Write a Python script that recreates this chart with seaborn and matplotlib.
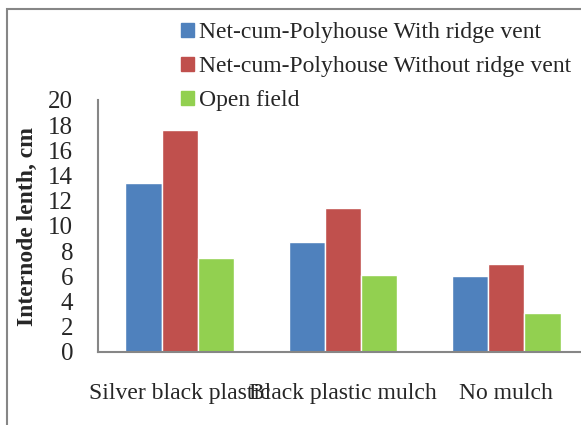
import pandas as pd
import seaborn as sns
import matplotlib.pyplot as plt
from matplotlib.patches import Rectangle

sns.set_style('white')
plt.rcParams['font.family'] = ['Liberation Serif', 'DejaVu Serif']

# 데이터
categories = ['Silver black plastic', 'Black plastic mulch', 'No mulch']
series = ['Net-cum-Polyhouse With ridge vent',
          'Net-cum-Polyhouse Without ridge vent',
          'Open field']
with_vent = [13.4, 8.7, 6.0]
without_vent = [17.6, 11.4, 7.0]
open_field = [7.5, 6.1, 3.1]
colors = ['#4F81BD', '#C0504D', '#92D050']

df = pd.DataFrame({
    'mulch': categories * 3,
    'treatment': [series[0]] * 3 + [series[1]] * 3 + [series[2]] * 3,
    'value': with_vent + without_vent + open_field,
})

fig = plt.figure(figsize=(5.81, 4.25), dpi=100)
# 차트 영역 테두리
fig.patches.append(Rectangle((7 / 581, -0.1), 1.2, 1 - 9 / 425 + 0.1,
                             transform=fig.transFigure, fill=False,
                             edgecolor='#868686', lw=1.5))

ax = fig.add_axes([98 / 581, 1 - 352 / 425, 490 / 581, 252 / 425])
sns.barplot(data=df, x='mulch', y='value', hue='treatment',
            hue_order=series, palette=colors, width=0.667,
            saturation=1, ax=ax, legend=False)

ax.set_xlim(-0.5, 2.5)
ax.set_ylim(0, 20)
ax.set_yticks(range(0, 21, 2))
ax.set_xlabel('')
ax.set_ylabel('Internode lenth, cm', fontsize=17, fontweight='bold', labelpad=7)
ax.tick_params(axis='y', labelsize=18, length=6, color='#868686', direction='out', pad=12)
ax.tick_params(axis='x', labelsize=17, length=0, pad=22)
ax.set_xticks([-0.5, 0.5, 1.5, 2.5], minor=True)
ax.tick_params(axis='x', which='minor', length=6, color='#868686', direction='in')

for side in ['top', 'right']:
    ax.spines[side].set_visible(False)
for side in ['left', 'bottom']:
    ax.spines[side].set_color('#868686')
    ax.spines[side].set_linewidth(1.5)

handles = [Rectangle((0, 0), 1, 1, color=c) for c in colors]
fig.legend(handles, series, loc='upper left', bbox_to_anchor=(172 / 581, 1 - 13 / 425),
           frameon=False, fontsize=17, handlelength=0.55, handleheight=0.55,
           handletextpad=0.2, labelspacing=0.55, borderaxespad=0)

plt.savefig('out.png', dpi=100)
